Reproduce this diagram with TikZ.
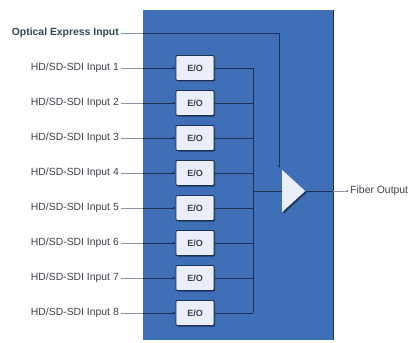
\documentclass[tikz,border=0pt]{standalone}
\usepackage{fontspec}
\setmainfont{Liberation Sans}
\usetikzlibrary{arrows.meta,shapes.geometric,shadows}
\definecolor{panelblue}{HTML}{3F6FB6}
\definecolor{boxfill}{HTML}{E9EEF8}
\definecolor{labelgrey}{HTML}{3A3F48}
\definecolor{wiregrey}{HTML}{8A94A6}
\definecolor{wirenavy}{HTML}{1C2F55}
\definecolor{optcolor}{HTML}{2E4756}
\tikzset{
  eobox/.style={draw=wirenavy, line width=0.9pt, fill=boxfill, rounded corners=1pt,
    minimum width=38pt, minimum height=25pt, inner sep=0pt,
    font=\fontsize{9}{10}\selectfont\bfseries, text=labelgrey,
    drop shadow={shadow xshift=1pt, shadow yshift=-1pt, fill=wirenavy, opacity=0.9}},
  lbl/.style={anchor=east, inner sep=2pt, font=\fontsize{10.4}{12}\selectfont, text=labelgrey},
  wire/.style={draw=wirenavy, line width=0.6pt},
  feed/.style={draw=wiregrey, line width=0.6pt},
  tip/.style={-{Stealth[length=3pt,width=2.5pt]}}
}
\begin{document}
\begin{tikzpicture}[x=1pt,y=-1pt]
\useasboundingbox (0,0) rectangle (414,342);
% panel
\fill[panelblue] (143,10) rectangle (333,340);
\draw[wirenavy, line width=1pt] (333,10) -- (333,340);
% optical input
\node[lbl, font=\fontsize{10.4}{12}\selectfont\bfseries, text=optcolor] (opt) at (121,33) {Optical Express Input};
\coordinate (optedge) at (143,33);
\coordinate (optin) at (279,168);
% amplifier
\node[isosceles triangle, isosceles triangle stretches, shape border rotate=0,
  minimum width=42pt, minimum height=23pt, inner sep=0pt, fill=boxfill,
  drop shadow={shadow xshift=1.5pt, shadow yshift=-1.5pt, fill=wirenavy, opacity=0.9}]
  (amp) at (291.5,191) {};
\draw[feed] (opt.east) -- (optedge);
\draw[wire, tip] (optedge) -| (optin);
% inputs
\foreach \i in {1,...,8} {
  \pgfmathsetmacro{\yy}{68+(\i-1)*35}
  \node[lbl] (in\i) at (121,\yy) {HD/SD-SDI Input \i};
  \node[eobox] (eo\i) at (195,\yy) {E/O};
  \coordinate (edge\i) at (143,\yy);
  \coordinate (bus\i) at (253,\yy);
  \draw[feed] (in\i.east) -- (edge\i);
  \draw[wire, tip] (edge\i) -- (eo\i.west);
  \draw[wire] (eo\i.east) -- (bus\i);
}
\draw[wire] (bus1) -- (bus8);
\coordinate (busmid) at (253,191);
\draw[wire] (busmid) -- (amp.west);
% output
\coordinate (outedge) at (333,191);
\draw[wire] (amp.apex) -- (outedge);
\draw[feed, tip] (outedge) -- (349,191) node[right, inner sep=1pt, font=\fontsize{10.4}{12}\selectfont, text=labelgrey] (out) {Fiber Output};
\end{tikzpicture}
\end{document}
